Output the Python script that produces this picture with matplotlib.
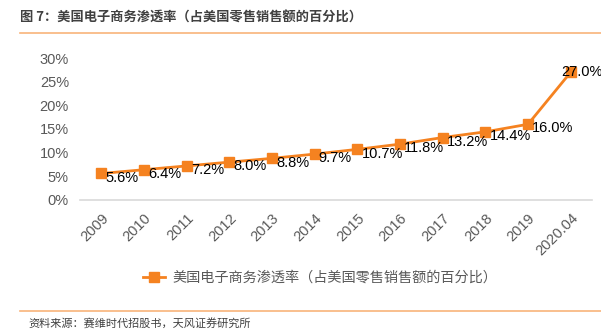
import matplotlib.pyplot as plt
from matplotlib.lines import Line2D
from matplotlib.ticker import FuncFormatter

plt.rcParams['font.family'] = ['Liberation Sans', 'Noto Sans CJK SC', 'DejaVu Sans']

years = ['2009', '2010', '2011', '2012', '2013', '2014', '2015', '2016',
         '2017', '2018', '2019', '2020.04']
share = [5.6, 6.4, 7.2, 8.0, 8.8, 9.7, 10.7, 11.8, 13.2, 14.4, 16.0, 27.0]
series_name = '美国电子商务渗透率（占美国零售销售额的百分比）'
title = '图 7：美国电子商务渗透率（占美国零售销售额的百分比）'
source = '资料来源：赛维时代招股书，天风证券研究所'

orange = '#F58220'
rule = '#F8B47A'
grey = '#595959'
cjk = ['Noto Sans CJK SC', 'DejaVu Sans']

fig = plt.figure(figsize=(6.01, 3.34), dpi=100)
ax = fig.add_axes([80 / 601, 1 - 200 / 334, 512 / 601, 142 / 334])

x = list(range(len(years)))
ax.plot(x, share, color=orange, lw=2, marker='s', ms=7, mec=orange, mfc=orange)

for i, v in enumerate(share):
    if i == len(share) - 1:
        off = (-7, 0)
    else:
        off = (3, -3)
    ax.annotate(f'{v:.1f}%', (i, v), xytext=off, textcoords='offset points',
                ha='left', va='center', fontsize=10.5, color='black')

ax.set_xlim(-0.5, len(years) - 0.5)
ax.set_ylim(0, 30)
ax.set_yticks(range(0, 31, 5))
ax.yaxis.set_major_formatter(FuncFormatter(lambda v, p: f'{v:.0f}%'))
ax.set_xticks(x)
ax.set_xticklabels(years, rotation=45, ha='right', rotation_mode='anchor')
ax.tick_params(axis='both', length=0, labelsize=10.5, colors=grey, pad=8)
for s in ['top', 'right', 'left']:
    ax.spines[s].set_visible(False)
ax.spines['bottom'].set_color('#D9D9D9')
ax.spines['bottom'].set_linewidth(1.2)

handle = Line2D([], [], color=orange, lw=2, marker='s', ms=7)
fig.legend([handle], [series_name], loc='center', bbox_to_anchor=(320 / 601, 1 - 278 / 334),
           frameon=False, prop={'family': cjk, 'size': 10.2}, labelcolor=grey,
           handlelength=1.6, handletextpad=0.5)

fig.text(20 / 601, 1 - 18 / 334, title, family=cjk, fontsize=9.5,
         fontweight='semibold', color='#404040', va='center')
fig.add_artist(Line2D([20 / 601, 1], [1 - 33 / 334] * 2, color=rule, lw=1.2))
fig.add_artist(Line2D([20 / 601, 1], [1 - 311 / 334] * 2, color=rule, lw=1.2))
fig.text(28 / 601, 1 - 324 / 334, source, family=cjk, fontsize=8,
         color='#404040', va='center')

fig.savefig('out.png', dpi=100)
